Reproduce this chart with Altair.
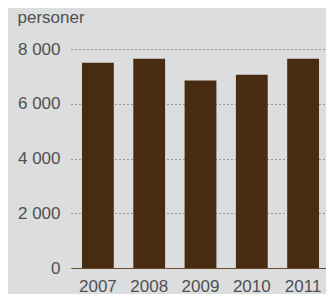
import altair as alt
import pandas as pd

years = ["2007", "2008", "2009", "2010", "2011"]
values = [7500, 7640, 6850, 7060, 7640]
y_ticks = [0, 2000, 4000, 6000, 8000]

df = pd.DataFrame({"year": years, "value": values})

FONT = "Liberation Sans"
TEXT = "#505050"

chart = alt.Chart(df).mark_bar(color="#472c12").encode(
    x=alt.X("year:N", sort=years,
            scale=alt.Scale(paddingInner=0.38, paddingOuter=0.214, range=[0, 259]),
            axis=alt.Axis(title=None, labelAngle=0, ticks=False, labelPadding=10,
                          labelFont=FONT, labelFontSize=17, labelColor=TEXT,
                          domainColor="#6b4a2a", domainWidth=1, grid=False)),
    y=alt.Y("value:Q", scale=alt.Scale(domain=[0, 8000], nice=False),
            axis=alt.Axis(values=y_ticks, title="personer", titleAngle=0,
                          titleAlign="left", titleBaseline="alphabetic",
                          titleX=-54, titleY=-27, titleFont=FONT, titleFontSize=17,
                          titleFontWeight="normal", titleColor=TEXT,
                          labelExpr="replace(format(datum.value, ','), ',', ' ')",
                          labelFont=FONT, labelFontSize=17, labelColor=TEXT,
                          labelPadding=11, ticks=False, domain=False,
                          grid=True, gridColor="#555555", gridDash=[1, 3],
                          gridWidth=1)),
).properties(
    width=255, height=219,
    autosize=alt.AutoSizeParams(type="none"),
    padding={"left": 63, "top": 41, "right": 0, "bottom": 26},
    background="#dcdddf",
).configure_view(stroke=None)

chart.save("out.html", embed_options={"renderer": "svg", "actions": False})
